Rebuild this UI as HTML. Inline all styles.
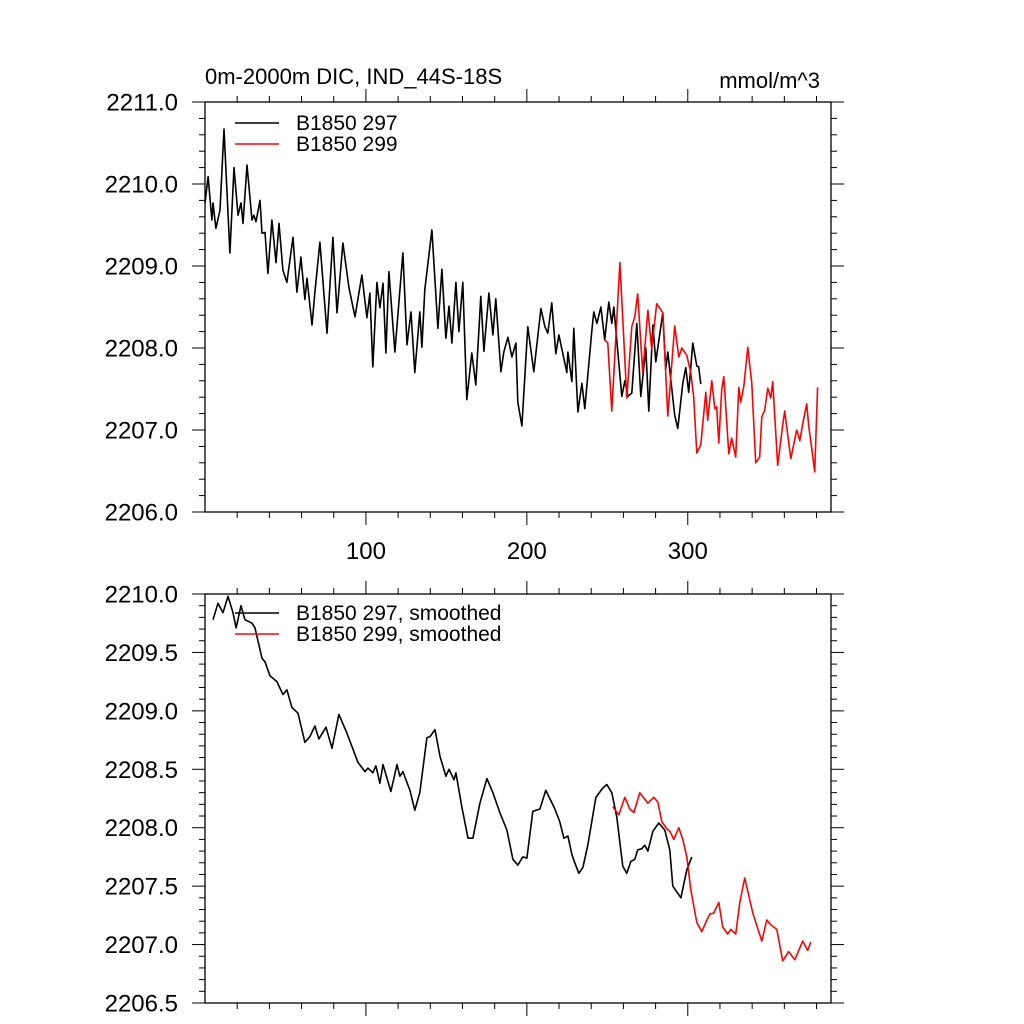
<!DOCTYPE html>
<html><head><meta charset="utf-8">
<style>
html,body{margin:0;padding:0;background:#fff;}
svg{display:block;font-family:"Liberation Sans",sans-serif;}
</style></head>
<body>
<svg id="chart" width="1024" height="1024" viewBox="0 0 1024 1024" xmlns="http://www.w3.org/2000/svg">
<rect width="1024" height="1024" fill="#fff"/>
<text x="205" y="84" font-size="22">0m-2000m DIC, IND_44S-18S</text>
<text x="820" y="88" font-size="22" text-anchor="end">mmol/m^3</text>
<g id="top"></g>
<g id="bot"></g>
</svg>
<script>
const blackTopX=[0,1.9,4.3,5,6.8,9.3,11.8,15.5,18,20.5,22.4,23.6,26.1,29.2,30.4,31.7,34.2,35.4,37.3,39.1,41.6,44.1,46,48.4,50.9,54.7,57.1,59.6,62.1,63.4,66.5,68.3,71.4,75.8,79.5,82,85.7,89.4,93.2,97.5,100.6,102.5,104.3,106.8,108.7,110.6,112.4,114.3,118,123,125.5,128,130.4,133.5,134.8,136.6,141,144.7,147.2,149.7,151.6,153.4,155.9,157.8,160.2,162.7,165.8,168.3,171.4,173.3,176.4,178.9,180.7,183.9,185.7,188.2,190.7,193.2,194.4,196.9,200.6,204.3,208.7,211.2,213,215.5,218,219.9,224.8,225.5,228,229.2,231.7,234.2,236,240.4,241.6,243.5,246,248.4,250.9,252.8,254,259,260.9,262.7,265.2,268.3,270.8,273.9,275.8,278.3,280.1,284.5,286.3,287.6,291.9,293.8,296.9,298.8,300.6,303.1,305.6,306.8,308.1];
const blackTopY=[2209.77,2210.09,2209.56,2209.77,2209.46,2209.68,2210.67,2209.16,2210.2,2209.62,2209.77,2209.52,2210.23,2209.56,2209.62,2209.54,2209.8,2209.4,2209.41,2208.91,2209.56,2209.04,2209.52,2208.95,2208.8,2209.35,2208.68,2209.11,2208.59,2208.85,2208.28,2208.68,2209.29,2208.18,2209.35,2208.43,2209.28,2208.74,2208.38,2208.89,2208.37,2208.67,2207.77,2208.8,2208.49,2208.79,2207.94,2208.93,2207.95,2209.16,2208.04,2208.44,2207.7,2208.44,2208.01,2208.71,2209.44,2208.24,2208.96,2208.12,2208.51,2208.06,2208.8,2208.2,2208.8,2207.37,2207.94,2207.55,2208.63,2207.96,2208.67,2208.16,2208.6,2207.71,2207.95,2208.13,2207.89,2208.06,2207.34,2207.05,2208.26,2207.71,2208.48,2208.26,2208.18,2208.55,2207.93,2208.16,2207.7,2207.95,2207.59,2208.24,2207.22,2207.57,2207.26,2208.22,2208.44,2208.3,2208.5,2208.1,2208.56,2208.3,2208.5,2207.41,2207.6,2207.41,2207.45,2208.3,2207.41,2208.0,2207.23,2208.28,2207.83,2208.43,2207.74,2207.95,2207.18,2207.02,2207.57,2207.76,2207.46,2208.06,2207.78,2207.77,2207.56];
const redTopX=[248.4,250.3,252.8,257.8,262.1,265.2,267.1,268.9,272,275.2,277.6,280.7,284.5,287.6,291.9,294.4,296.3,299.4,301.9,303.7,305.6,308.1,311.2,312.4,314.9,316.8,318,319.3,321.1,322.4,325.5,327.3,329.8,331.7,332.9,334.8,337.3,339.8,342.2,344.7,346,347.8,349.7,351.6,352.8,355.9,359,360.2,364,367.7,369.6,372,373.9,375.2,377,378.9,380.7];
const redTopY=[2208.1,2208.06,2207.23,2209.04,2207.39,2208.26,2208.38,2208.66,2207.7,2208.46,2207.99,2208.54,2208.43,2207.17,2208.27,2207.89,2208.0,2207.91,2207.7,2207.4,2206.72,2206.82,2207.46,2207.12,2207.6,2207.26,2207.28,2206.84,2207.49,2207.65,2206.71,2206.9,2206.67,2207.52,2207.34,2207.53,2208.01,2207.57,2206.6,2206.67,2207.16,2207.24,2207.51,2207.39,2207.59,2206.57,2207.06,2207.23,2206.65,2207.0,2206.87,2207.13,2207.32,2207.04,2206.78,2206.49,2207.52];
const blackBotX=[5,8.1,11.2,14.3,17.4,19.3,22.4,24.8,29.2,31.1,35.4,37.3,40.4,44.7,48.4,50.9,54,57.8,62.1,65.2,68.3,70.8,75.2,78.9,83.2,88.2,95,99.4,101.2,104.3,106.2,108.7,110.6,115.5,119.3,121.1,123,127.3,130.4,133.5,137.9,139.8,142.9,146,149.7,151.6,154.7,155.9,159.6,163.4,166.5,170.8,175.2,178.9,183.2,187.6,191.3,194.4,197.5,200,203.7,208.1,211.8,217.4,220.5,223,225.5,228,229.8,232.3,234.8,237.9,242.9,247.2,249.7,252.8,255.9,259.6,262.1,264.6,267.1,268.9,271.4,273.3,275.2,278.3,282,285.7,288.8,290.7,295.7,299.4,302.5];
const blackBotY=[2209.78,2209.92,2209.84,2209.98,2209.84,2209.71,2209.9,2209.78,2209.75,2209.71,2209.45,2209.42,2209.3,2209.25,2209.14,2209.18,2209.03,2208.98,2208.73,2208.78,2208.87,2208.76,2208.86,2208.68,2208.97,2208.81,2208.56,2208.48,2208.51,2208.47,2208.53,2208.38,2208.54,2208.31,2208.54,2208.44,2208.48,2208.32,2208.15,2208.3,2208.77,2208.78,2208.84,2208.61,2208.44,2208.5,2208.41,2208.47,2208.18,2207.91,2207.91,2208.21,2208.42,2208.3,2208.13,2207.98,2207.73,2207.68,2207.75,2207.74,2208.14,2208.16,2208.32,2208.16,2208.05,2207.91,2207.93,2207.77,2207.7,2207.61,2207.66,2207.85,2208.26,2208.34,2208.37,2208.3,2208.09,2207.67,2207.61,2207.71,2207.73,2207.81,2207.82,2207.85,2207.8,2207.97,2208.04,2207.98,2207.81,2207.5,2207.4,2207.64,2207.75];
const redBotX=[253.4,257.1,260.9,264,266.5,270.2,275.2,278.9,281.4,283.9,287,288.8,291.3,294.4,296.9,299.4,301.9,305.6,308.7,311.2,313.7,316.1,319.3,321.7,324.8,326.7,329.8,332.3,335.4,340.4,346,349.1,351.6,355.3,359,362.7,366.5,371.4,374.5,376.4];
const redBotY=[2208.18,2208.11,2208.26,2208.16,2208.13,2208.3,2208.21,2208.26,2208.22,2208.05,2207.99,2207.97,2207.9,2208.0,2207.9,2207.75,2207.47,2207.19,2207.11,2207.19,2207.26,2207.27,2207.36,2207.15,2207.09,2207.13,2207.09,2207.36,2207.57,2207.27,2207.03,2207.21,2207.17,2207.13,2206.86,2206.94,2206.87,2207.03,2206.95,2207.02];
const xTicks=[100,200,300];
const topYTicks=[2206,2207,2208,2209,2210,2211];
const botYTicks=[2206.5,2207,2207.5,2208,2208.5,2209,2209.5,2210];

const NS="http://www.w3.org/2000/svg";
function mk(parent,tag,attrs){const e=document.createElementNS(NS,tag);for(const k in attrs)e.setAttribute(k,attrs[k]);parent.appendChild(e);return e;}
const L=205,R=831,XMIN=0,XMAX=389;
const sx=v=>L+(v-XMIN)/(XMAX-XMIN)*(R-L);

function panel(g,T,B,ymin,ymax,yticks,minorStep,showXLabels,series,legend,legendY){
  const sy=v=>B-(v-ymin)/(ymax-ymin)*(B-T);
  const frame=mk(g,'rect',{x:L,y:T,width:R-L,height:B-T,fill:'none',stroke:'#000','stroke-width':1.3});
  
  
  for(let v=20;v<XMAX;v+=20){
    const major=xTicks.includes(v);const len=major?13:6;const x=sx(v);
    const t1=mk(g,'line',{x1:x,x2:x,y1:B,y2:B+len,stroke:'#000','stroke-width':1});
    
    
    const t2=mk(g,'line',{x1:x,x2:x,y1:T,y2:T-len,stroke:'#000','stroke-width':1});
    
    
  }
  if(showXLabels){xTicks.forEach(v=>{
    const t=mk(g,'text',{x:sx(v),y:B+47,'font-size':24,'text-anchor':'middle'});t.textContent=v;
    
    
  });}
  const n=Math.round((ymax-ymin)/minorStep);
  for(let i=0;i<=n;i++){
    const v=ymin+i*minorStep;const major=yticks.some(t=>Math.abs(t-v)<1e-6);const len=major?13:6;const y=sy(v);
    const a=mk(g,'line',{x1:L,x2:L-len,y1:y,y2:y,stroke:'#000','stroke-width':1});
    
    
    const b=mk(g,'line',{x1:R,x2:R+len,y1:y,y2:y,stroke:'#000','stroke-width':1});
    
    
  }
  yticks.forEach(v=>{
    const t=mk(g,'text',{x:L-27,y:sy(v)+8.5,'font-size':24,'text-anchor':'end'});t.textContent=v.toFixed(1);
    
    
  });
  series.forEach(s=>{
    const d=s.x.map((xv,i)=>(i?'L':'M')+sx(xv).toFixed(1)+' '+sy(s.y[i]).toFixed(1)).join(' ');
    const p=mk(g,'path',{d:d,fill:'none',stroke:s.c,'stroke-width':1.6,'stroke-linejoin':'round'});
    
    
  });
  legend.forEach((lg,i)=>{
    const y=legendY+i*21;
    const ln=mk(g,'line',{x1:235,x2:279,y1:y,y2:y,stroke:lg.c,'stroke-width':1.4});
    
    
    const t=mk(g,'text',{x:296,y:y+7,'font-size':21});t.textContent=lg.t;
    
    
  });
}
panel(document.getElementById('top'),102,512,2206,2211,topYTicks,0.2,true,
 [{x:blackTopX,y:blackTopY,c:'#000',name:'series-b1850-297'},{x:redTopX,y:redTopY,c:'#f00',name:'series-b1850-299'}],
 [{t:'B1850 297',c:'#000'},{t:'B1850 299',c:'#f00'}],123);
panel(document.getElementById('bot'),594,1003,2206.5,2210,botYTicks,0.1,false,
 [{x:blackBotX,y:blackBotY,c:'#000',name:'series-b1850-297-smoothed'},{x:redBotX,y:redBotY,c:'#f00',name:'series-b1850-299-smoothed'}],
 [{t:'B1850 297, smoothed',c:'#000'},{t:'B1850 299, smoothed',c:'#f00'}],613);
</script>
</body></html>
